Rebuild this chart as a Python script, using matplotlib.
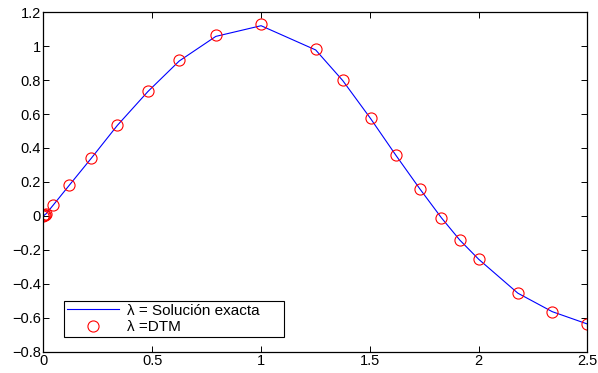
import matplotlib
matplotlib.use("Agg")
import matplotlib.pyplot as plt
from matplotlib.ticker import FuncFormatter

# time grid (same points for the exact curve and the DTM markers)
t = [0.0, 0.003, 0.006, 0.012, 0.044, 0.119, 0.22, 0.34, 0.48, 0.624, 0.792,
     1.0, 1.251, 1.375, 1.503, 1.619, 1.729, 1.829, 1.914, 2.0, 2.18, 2.338, 2.5]

y_exact = [0.0, 0.003, 0.006, 0.012, 0.062, 0.181, 0.340, 0.534, 0.733, 0.913, 1.058,
           1.121, 0.978, 0.798, 0.574, 0.358, 0.160, -0.012, -0.144, -0.256, -0.456, -0.565, -0.638]

y_dtm = [0.0, 0.003, 0.006, 0.012, 0.063, 0.183, 0.342, 0.537, 0.737, 0.918, 1.066,
         1.131, 0.983, 0.800, 0.576, 0.360, 0.161, -0.010, -0.143, -0.256, -0.456, -0.566, -0.639]

x_ticks = [0, 0.5, 1, 1.5, 2, 2.5]
y_ticks = [-0.8, -0.6, -0.4, -0.2, 0, 0.2, 0.4, 0.6, 0.8, 1, 1.2]

plt.rcParams['font.family'] = ['Liberation Sans', 'DejaVu Sans']
plt.rcParams['font.size'] = 10.5

fig = plt.figure(figsize=(5.98, 3.73), dpi=100)
ax = fig.add_axes([0.0727, 0.0576, 0.9097, 0.9094])

ax.plot(t, y_exact, color='#0000ff', lw=0.8, label='λ = Solución exacta')
ax.plot(t, y_dtm, ls='none', marker='o', ms=8, mfc='none', mec='red', mew=0.8,
        label='λ =DTM')

ax.set_xlim(0, 2.5)
ax.set_ylim(-0.8, 1.2)
ax.set_xticks(x_ticks)
ax.set_yticks(y_ticks)

def g_fmt(v, pos):
    # matlab style tick labels: 1, 0.5, -0.2
    s = "%g" % round(v, 6)
    return s.replace('-', '\u2212')

ax.xaxis.set_major_formatter(FuncFormatter(g_fmt))
ax.yaxis.set_major_formatter(FuncFormatter(g_fmt))
ax.tick_params(direction='in', length=4, width=0.7, top=True, right=True,
               labelsize=10.5, pad=2)
for sp in ax.spines.values():
    sp.set_linewidth(0.9)

leg = ax.legend(loc='lower left', bbox_to_anchor=(0.0377, 0.0427, 0.404, 0.13),
                mode='expand', fancybox=False, framealpha=1, edgecolor='black',
                fontsize=11, handlelength=3.4, handletextpad=0.5, borderpad=0.2,
                labelspacing=0.15, borderaxespad=0)
leg.get_frame().set_linewidth(0.8)

fig.savefig("out.png", dpi=100)
